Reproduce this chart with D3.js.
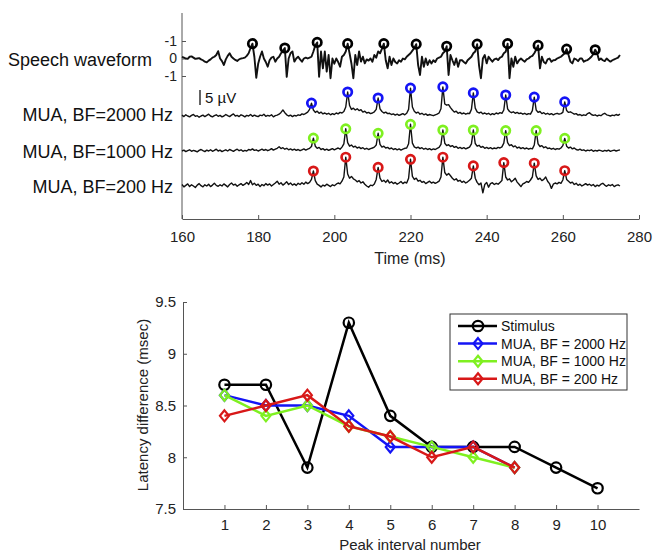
<!DOCTYPE html>
<html>
<head>
<meta charset="utf-8">
<script src="https://cdn.jsdelivr.net/npm/d3@7"></script>
<style>
body{margin:0;background:#fff;}
svg{font-family:"Liberation Sans",Arial,sans-serif;}
.axis path,.axis line{stroke:#555;stroke-width:1;}
.axis text{fill:#222;font-size:15px;font-family:"Liberation Sans",Arial,sans-serif;}
</style>
</head>
<body>
<script>
// traces are sampled every 0.5 ms starting at 160 ms
var t0 = 160, dt = 0.5;

// speech waveform (axis units, positive = up)
var speechWave = [
 0.1, 0.05, 0.0, -0.02, 0.1, 0.12, 0.05, -0.02, 0.0, 0.02, -0.05, -0.1, -0.18, -0.22, -0.12, -0.05, 0.05, 0.1, 0.2, 0.42,
 0.0, -0.15, -0.37, -0.05, 0.15, 0.3, 0.1, 0.0, -0.08, -0.14, -0.05, 0.0, 0.02, 0.05, 0.15, 0.3, 0.6, 0.85, 0.1, -1.1,
 -0.3, 0.1, 0.4, 0.0, -0.2, -0.47, -0.1, 0.05, 0.1, -0.18, 0.0, 0.1, 0.3, 0.45, 0.6, -1.05, 0.0, 0.3, 0.4, -0.18,
 0.0, 0.1, -0.05, -0.18, 0.0, 0.05, 0.0, 0.05, 0.1, 0.4, 0.75, 0.92, -1.04, 0.4, -0.56, 0.4, -0.75, 0.2, -1.13, 0.0,
 -0.3, 0.0, -0.2, -0.47, 0.1, 0.2, 0.4, 0.85, 0.3, -0.3, -1.13, 0.2, -0.37, 0.4, -0.18, 0.1, -0.28, -0.05, -0.12, 0.0,
 -0.18, 0.2, 0.05, 0.4, 0.3, 0.55, 0.85, -0.1, -0.56, 0.1, -0.37, 0.0, -0.2, -0.28, -0.1, -0.18, 0.0, -0.05, 0.1, 0.2,
 0.3, 0.45, 0.6, 0.82, -0.37, -0.94, 0.1, -0.47, 0.0, -0.37, -0.1, -0.28, -0.1, -0.2, 0.0, 0.05, 0.1, 0.3, 0.4, 0.7,
 -0.94, 0.2, -0.1, -0.37, 0.0, -0.47, -0.1, -0.09, -0.2, -0.28, -0.1, 0.0, 0.1, 0.3, 0.4, 0.82, -0.4, -1.13, 0.0, 0.2,
 -0.28, 0.1, -0.05, -0.18, -0.05, 0.0, -0.09, 0.05, 0.1, 0.3, 0.39, 0.85, -1.13, 0.0, -0.47, 0.1, -0.28, -0.1, 0.0, -0.1,
 -0.18, -0.05, 0.0, 0.1, 0.15, 0.3, 0.5, 0.75, -0.56, 0.1, -0.2, -0.28, -0.05, 0.0, -0.18, -0.1, -0.09, 0.0, 0.05, 0.1,
 0.2, 0.3, 0.54, 0.2, -0.18, -0.28, 0.0, -0.05, -0.15, 0.0, 0.0, -0.18, -0.12, -0.09, 0.0, 0.1, 0.25, 0.5, 0.3, -0.09,
 0.0, -0.1, -0.15, 0.0, -0.1, -0.18, -0.1, -0.05, 0.0, 0.05, 0.2
];

// MUA traces (µV above each baseline)
var mua2000 = [
 0.3, -0.2, 0.4, 0.0, -0.3, 0.2, 0.5, -0.1, 0.1, -0.4, 0.0, 0.3, -0.2, 0.2, 0.6, 0.0, -0.3, 0.1, 0.4, -0.1,
 0.2, -0.3, 0.0, 0.5, 0.1, -0.2, 0.3, 0.7, 0.0, 0.2, -0.2, 0.4, 0.1, -0.3, 0.2, 0.0, 0.5, -0.1, 0.3, 0.0,
 -0.2, 0.3, 0.1, 0.6, -0.1, 0.2, 0.0, 0.4, -0.3, 0.1, 0.3, 0.6, 1.2, 2.0, 1.1, 0.4, 0.0, 0.3, -0.2, 0.2,
 0.0, 0.4, 0.2, 0.7, 0.5, 0.9, 1.3, 2.2, 4.3, 2.0, 1.2, 1.6, 0.9, 1.3, 0.7, 1.0, 0.6, 0.9, 0.4, 0.8,
 0.5, 1.0, 0.7, 1.2, 1.0, 1.5, 3.0, 8.0, 3.5, 2.2, 2.6, 2.0, 2.4, 1.8, 2.1, 1.3, 1.6, 1.0, 1.2, 0.8,
 1.0, 1.4, 2.2, 6.0, 2.4, 1.5, 1.0, 1.3, 0.8, 0.9, 0.5, 0.7, 0.3, 0.6, 0.2, 0.5, 0.8, 0.4, 0.9, 2.2,
 9.3, 3.0, 1.6, 1.0, 1.3, 0.6, 0.9, 0.4, 0.7, 0.2, 0.5, 0.3, 0.1, 0.4, 0.6, 1.0, 2.4, 9.7, 4.0, 3.6,
 3.8, 2.8, 2.0, 1.3, 1.6, 0.9, 1.2, 0.7, 1.0, 0.6, 0.9, 0.8, 2.2, 7.7, 2.6, 1.4, 1.0, 1.3, 0.7, 1.0,
 0.6, 0.9, 0.4, 0.8, 0.5, 1.0, 0.7, 1.1, 0.9, 2.0, 7.0, 2.4, 1.5, 1.1, 1.4, 0.9, 1.2, 0.8, 1.0, 0.6,
 0.9, 0.5, 0.8, 0.6, 1.8, 6.3, 2.0, 1.2, 1.5, 0.8, 1.1, 0.6, 0.9, 0.5, 0.8, 0.4, 0.7, 0.9, 0.6, 0.8,
 1.2, 4.7, 1.8, 1.2, 1.4, 1.0, 0.6, 0.8, 0.3, 0.5, 0.1, 0.4, 0.2, 0.8, 1.1, 0.5, 0.2, 0.4, 0.0, 0.3,
 0.1, 0.6, 0.9, 0.4, 0.2, 0.0, 0.3, 0.1, 0.5, 0.2, 0.6
];
var mua1000 = [
 0.0, 0.3, -0.2, 0.1, 0.4, -0.1, 0.2, 0.0, -0.3, 0.2, 0.5, 0.1, -0.2, 0.3, 0.0, 0.4, -0.1, 0.2, 0.6, 0.0,
 0.3, -0.2, 0.1, 0.4, 0.0, 0.5, 0.2, -0.1, 0.3, 0.6, 0.1, 0.4, -0.1, 0.2, 0.0, 0.5, 0.3, 0.7, 0.2, 0.4,
 0.0, 0.3, 0.6, 0.2, 0.5, 0.1, 0.4, 0.8, 0.3, 0.6, 0.9, 1.4, 0.8, 1.1, 0.6, 0.9, 0.4, 0.7, 0.3, 0.6,
 0.2, 0.5, 0.1, 0.4, 0.7, 0.3, 0.6, 0.9, 1.5, 4.3, 1.6, 0.9, 1.2, 0.5, 0.8, 0.3, 0.6, 0.2, 0.5, 0.8,
 0.4, 0.7, 1.0, 0.6, 1.3, 2.4, 7.4, 2.8, 1.6, 2.0, 1.3, 1.6, 1.0, 1.3, 0.8, 1.1, 0.6, 0.9, 0.5, 0.8,
 1.0, 1.3, 2.0, 5.9, 2.2, 1.3, 1.6, 1.0, 1.2, 0.7, 1.0, 0.5, 0.8, 0.4, 0.7, 0.3, 0.6, 0.9, 1.0, 2.4,
 8.9, 2.6, 1.4, 1.0, 1.3, 0.8, 1.1, 0.6, 0.9, 0.5, 0.8, 0.4, 0.7, 0.5, 0.9, 1.2, 2.2, 7.0, 2.6, 1.8,
 2.1, 1.5, 1.8, 1.2, 1.5, 0.9, 1.2, 0.8, 1.1, 0.7, 1.0, 1.3, 2.4, 7.0, 2.5, 1.6, 1.9, 1.2, 1.5, 0.9,
 1.2, 0.8, 1.1, 0.7, 1.0, 0.8, 1.2, 1.0, 1.4, 2.6, 6.8, 2.8, 1.8, 2.1, 1.4, 1.7, 1.0, 1.3, 0.8, 1.1,
 0.7, 1.0, 0.6, 0.9, 0.7, 2.0, 6.8, 2.4, 1.5, 1.8, 1.1, 1.4, 0.8, 1.0, 0.6, 0.9, 0.5, 0.8, 0.6, 1.0,
 1.8, 4.2, 1.6, 1.0, 1.3, 0.7, 1.0, 0.5, 0.3, 0.6, 0.2, 0.4, 0.0, 0.3, 0.1, 0.4, -0.1, 0.2, 0.0, 0.3,
 0.1, -0.1, 0.2, 0.0, 0.3, -0.1, 0.1, 0.3, 0.0, 0.2, 0.4
];
var mua200 = [
 0.5, -0.3, 0.2, 0.7, -0.2, 0.4, 0.0, -0.5, 0.3, 0.8, 0.1, -0.3, 0.4, 0.0, 0.6, -0.2, 0.3, 0.9, 0.2, -0.1,
 0.4, 0.0, 0.7, 0.2, -0.3, 0.5, 1.0, 0.3, 0.6, -0.1, 0.4, 0.8, 0.2, 0.6, 1.2, 0.5, 1.8, 0.4, 0.9, 0.2,
 0.6, -0.2, 0.5, 0.1, 0.8, 0.3, 0.7, 0.0, 0.5, 1.0, 1.6, 0.6, 1.1, 0.3, 0.8, 1.4, 0.5, 1.0, 0.3, 0.7,
 0.2, 0.9, 0.5, 1.1, 0.6, 1.3, 0.8, 1.2, 2.2, 5.0, 1.8, 0.6, 0.2, -0.3, 0.3, 0.0, 0.6, 0.2, -0.2, 0.4,
 0.1, 0.6, 1.0, 0.7, 1.6, 3.0, 9.6, 4.0, 2.6, 3.2, 2.4, 2.0, 1.4, 1.8, 1.0, 1.4, 0.6, 0.0, -0.4, 0.3,
 0.1, 0.7, 2.2, 6.2, 2.6, 1.5, 1.9, 1.2, 2.0, 1.0, 1.4, 0.8, 1.2, 0.6, 1.0, 1.5, 0.8, 1.3, 1.0, 2.6,
 8.9, 3.2, 2.2, 2.6, 1.6, 1.9, 1.2, 1.5, 0.8, 1.2, 1.6, 1.0, 1.3, 0.9, 1.2, 1.6, 3.0, 9.6, 4.5, 3.6,
 4.2, 3.4, 2.6, 2.0, 2.4, 1.6, 1.9, 1.2, 1.6, 1.0, 1.4, 1.9, 2.6, 6.7, 2.6, 1.2, 0.4, 1.0, -2.3, 0.5,
 1.2, -0.4, 0.8, 1.1, 0.5, 0.9, 0.6, 1.2, 1.8, 7.8, 3.0, 2.0, 2.4, 1.4, 1.9, 2.6, 1.3, 0.6, -0.2, 0.7,
 1.0, 1.5, 1.2, 2.0, 3.0, 7.6, 3.4, 2.2, 2.6, 1.8, 2.2, 3.0, 1.6, 0.8, -0.8, 0.6, 1.0, 0.7, 1.2, 0.9,
 2.0, 5.1, 2.2, 1.6, 1.0, 1.3, 0.5, 0.9, 0.2, 0.6, 0.0, 0.4, 0.8, 0.3, 0.6, 0.1, 0.5, -0.2, 0.3, 0.0,
 0.6, 0.9, 0.3, -0.1, 0.4, 0.1, 0.5, -0.2, 0.2, 0.4, 0.0
];

// picked peaks (ms)
var speechPeaks = [178.5, 187, 195.5, 203.5, 213, 221.5, 229.5, 237.5, 245.5, 253.5, 261, 268.5];
var mua2000Peaks = [194, 203.5, 211.5, 220, 228.5, 236.5, 245, 252.5, 260.5];
var mua1000Peaks = [194.5, 203, 211.5, 220, 228.5, 236.5, 245, 253, 260.5];
var mua200Peaks = [194.5, 203, 211.5, 220, 228.5, 236.5, 244.5, 252.5, 260.5];
var timeTicks = [160, 180, 200, 220, 240, 260, 280];

// lower panel
var intervalNum = [1, 2, 3, 4, 5, 6, 7, 8, 9, 10];
var stimulus = [8.7, 8.7, 7.9, 9.3, 8.4, 8.1, 8.1, 8.1, 7.9, 7.7];
var bf2000 = [8.6, 8.5, 8.5, 8.4, 8.1, 8.1, 8.1, 7.9];
var bf1000 = [8.6, 8.4, 8.5, 8.3, 8.2, 8.1, 8.0, 7.9];
var bf200 = [8.4, 8.5, 8.6, 8.3, 8.2, 8.0, 8.1, 7.9];
var latencyTicks = [7.5, 8, 8.5, 9, 9.5];

var width = 654, height = 552;
var svg = d3.select("body").append("svg").attr("width", width).attr("height", height);

//---------------- top panel ----------------
var xTime = d3.scaleLinear().domain([160, 280]).range([182, 639]);
var ySpeech = d3.scaleLinear().domain([-1, 1]).range([76, 41]);
function muaScale(base){
    return d3.scaleLinear().domain([0, 5]).range([base, base - 15]);
}
var traces = [
    {label: "Speech waveform", data: speechWave, peaks: speechPeaks, y: ySpeech, color: "#000", lx: 152, ly: 60, w: 1.9},
    {label: "MUA, BF=2000 Hz", data: mua2000, peaks: mua2000Peaks, y: muaScale(116), color: "#1414f5", lx: 173, ly: 115, w: 1.4},
    {label: "MUA, BF=1000 Hz", data: mua1000, peaks: mua1000Peaks, y: muaScale(151), color: "#7ff020", lx: 173, ly: 152, w: 1.4},
    {label: "MUA, BF=200 Hz", data: mua200, peaks: mua200Peaks, y: muaScale(186), color: "#d81818", lx: 173, ly: 187, w: 1.4}
];

// axes
svg.append("g").attr("class", "axis")
    .attr("transform", "translate(0,219)")
    .call(d3.axisBottom(xTime).tickValues(timeTicks).tickSizeInner(-4).tickSizeOuter(0).tickPadding(12));
svg.append("line").attr("x1", xTime(160)).attr("x2", xTime(160)).attr("y1", 13).attr("y2", 219)
    .attr("stroke", "#555");
var sAxis = svg.append("g").attr("class", "axis")
    .attr("transform", "translate(" + xTime(160) + ",0)")
    .call(d3.axisLeft(ySpeech).tickValues([-1, 0, 1]).tickSizeInner(-4).tickSizeOuter(0).tickPadding(5)
        .tickFormat(function(d){ return d === 0 ? "0" : "-1"; }));
sAxis.select(".domain").remove();
sAxis.selectAll("text").style("font-size", "14px");

svg.append("text").attr("x", 410).attr("y", 264).attr("text-anchor", "middle")
    .style("font-size", "16px").attr("fill", "#222").text("Time (ms)");

// traces
traces.forEach(function(tr){
    var line = d3.line()
        .x(function(d, i){ return xTime(t0 + i * dt); })
        .y(function(d){ return tr.y(d); });
    svg.append("path").datum(tr.data)
        .attr("d", line).attr("fill", "none")
        .attr("stroke", "#111").attr("stroke-width", tr.w).attr("stroke-linejoin", "round");

    svg.selectAll(null).data(tr.peaks).enter().append("circle")
        .attr("cx", function(p){ return xTime(p); })
        .attr("cy", function(p){ return tr.y(tr.data[Math.round((p - t0) / dt)]); })
        .attr("r", 4.2)
        .attr("fill", "none").attr("stroke", tr.color).attr("stroke-width", 2.7);

    svg.append("text").attr("x", tr.lx).attr("y", tr.ly).attr("dy", "0.35em")
        .attr("text-anchor", "end").style("font-size", "18px").attr("fill", "#111")
        .text(tr.label);
});

// 5 uV scale bar
var yBar = muaScale(105);
svg.append("line").attr("x1", 200).attr("x2", 200).attr("y1", yBar(0)).attr("y2", yBar(5))
    .attr("stroke", "#111").attr("stroke-width", 1.3);
svg.append("text").attr("x", 205).attr("y", 98).attr("dy", "0.35em")
    .style("font-size", "15px").attr("fill", "#111").text("5 µV");

//---------------- bottom panel ----------------
var xInt = d3.scaleLinear().domain([0, 11]).range([183, 639]);
var yLat = d3.scaleLinear().domain([7.5, 9.5]).range([509, 302]);

svg.append("g").attr("class", "axis")
    .attr("transform", "translate(0,509)")
    .call(d3.axisBottom(xInt).tickValues(intervalNum).tickSizeInner(-4).tickSizeOuter(0).tickPadding(10));
svg.append("g").attr("class", "axis")
    .attr("transform", "translate(183,0)")
    .call(d3.axisLeft(yLat).tickValues(latencyTicks).tickSizeInner(-4).tickSizeOuter(0).tickPadding(7)
        .tickFormat(d3.format("")));

svg.append("text").attr("x", 410).attr("y", 550)
    .attr("text-anchor", "middle").style("font-size", "15px").attr("fill", "#222")
    .text("Peak interval number");
svg.append("text").attr("transform", "translate(148,405) rotate(-90)")
    .attr("text-anchor", "middle").style("font-size", "15px").attr("fill", "#222")
    .text("Latency difference (msec)");

var diamond = "M0,-5.5L4.5,0L0,5.5L-4.5,0Z";
var series = [
    {name: "Stimulus", values: stimulus, color: "#000", marker: "circle"},
    {name: "MUA, BF = 2000 Hz", values: bf2000, color: "#1414f5", marker: "diamond"},
    {name: "MUA, BF = 1000 Hz", values: bf1000, color: "#7ff020", marker: "diamond"},
    {name: "MUA, BF = 200 Hz", values: bf200, color: "#d81818", marker: "diamond"}
];

function drawMarker(g, s, x, y){
    if (s.marker === "circle"){
        g.append("circle").attr("cx", x).attr("cy", y).attr("r", 5.2)
            .attr("fill", "none").attr("stroke", s.color).attr("stroke-width", 2.2);
    } else {
        g.append("path").attr("d", diamond).attr("transform", "translate(" + x + "," + y + ")")
            .attr("fill", "none").attr("stroke", s.color).attr("stroke-width", 2.2);
    }
}

var latLine = d3.line()
    .x(function(d, i){ return xInt(intervalNum[i]); })
    .y(function(d){ return yLat(d); });

series.forEach(function(s){
    var g = svg.append("g");
    g.append("path").datum(s.values).attr("d", latLine)
        .attr("fill", "none").attr("stroke", s.color).attr("stroke-width", 2.5);
    s.values.forEach(function(v, i){
        drawMarker(g, s, xInt(intervalNum[i]), yLat(v));
    });
});

// legend
var leg = svg.append("g").attr("transform", "translate(450,314)");
leg.append("rect").attr("width", 177).attr("height", 76)
    .attr("fill", "#fff").attr("stroke", "#333").attr("stroke-width", 1);
series.forEach(function(s, i){
    var yy = 12 + i * 17.6;
    leg.append("line").attr("x1", 8).attr("x2", 47).attr("y1", yy).attr("y2", yy)
        .attr("stroke", s.color).attr("stroke-width", 2.5);
    drawMarker(leg, s, 28, yy);
    leg.append("text").attr("x", 51).attr("y", yy).attr("dy", "0.35em")
        .style("font-size", "14px").attr("fill", "#111").text(s.name);
});
</script>
</body>
</html>
